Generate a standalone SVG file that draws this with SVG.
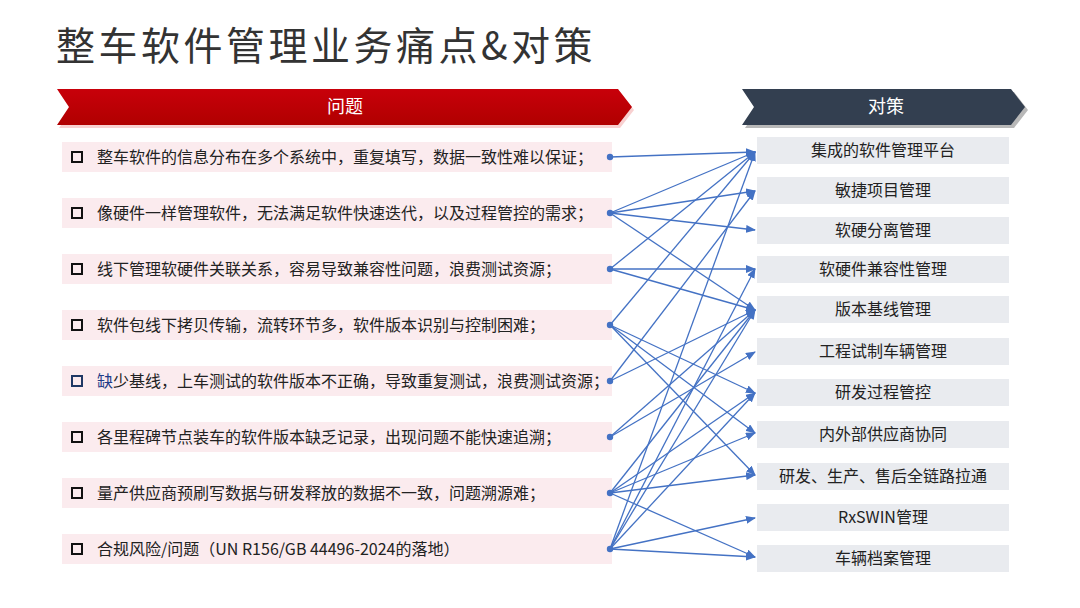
<svg xmlns="http://www.w3.org/2000/svg" width="1080" height="608" viewBox="0 0 1080 608">
<style>
text{font-family:"Noto Sans CJK SC","Noto Sans",sans-serif}
.title{font-size:39px;fill:#333;letter-spacing:3.5px}
.hdr{font-size:18px;fill:#fff}
.row{fill:#FBEBEE}
.rt{font-size:16px;fill:#222}
.cb{fill:none;stroke:#111;stroke-width:2}
.box{fill:#E9EBEF}
.bt{font-size:16px;fill:#222;text-anchor:middle}
.c{fill:none;stroke:#4472C4;stroke-width:1.3;marker-end:url(#ah)}
.dot{fill:#4472C4}
</style>
<defs>
<marker id="ah" markerUnits="userSpaceOnUse" markerWidth="10" markerHeight="8" refX="9" refY="4" orient="auto">
<path d="M0,0 L10,4 L0,8 Z" fill="#4472C4"/>
</marker>
<linearGradient id="rg" x1="0" y1="0" x2="0" y2="1">
<stop offset="0" stop-color="#C8000A"/>
<stop offset="1" stop-color="#B00000"/>
</linearGradient>
</defs>
<rect width="1080" height="608" fill="#fff"/>
<text class="title" x="56" y="60">整车软件管理业务痛点&amp;对策</text>

<g id="hdr-problem">
<polygon points="59,92 620,92 634,110 620,128 59,128 71,110" fill="#F6C4C4" opacity="0.8"/>
<polygon points="57,89 618,89 632,107 618,125 57,125 69,107" fill="url(#rg)"/>
<text class="hdr" x="345" y="113" text-anchor="middle">问题</text>
</g>
<g id="hdr-solution">
<polygon points="745,92 1014,92 1028,110 1014,128 745,128 757,110" fill="#A6A6A6" opacity="0.8"/>
<polygon points="742,89 1011,89 1025,107 1011,125 742,125 754,107" fill="#333F50"/>
<text class="hdr" x="886" y="113" text-anchor="middle">对策</text>
</g>

<g id="p1"><rect class="row" x="62" y="142" width="550" height="30"/><rect class="cb" x="72" y="152" width="10" height="10"/><text class="rt" x="97" y="163">整车软件的信息分布在多个系统中，重复填写，数据一致性难以保证；</text></g>
<g id="p2"><rect class="row" x="62" y="198" width="550" height="30"/><rect class="cb" x="72" y="208" width="10" height="10"/><text class="rt" x="97" y="219">像硬件一样管理软件，无法满足软件快速迭代，以及过程管控的需求；</text></g>
<g id="p3"><rect class="row" x="62" y="254" width="550" height="30"/><rect class="cb" x="72" y="264" width="10" height="10"/><text class="rt" x="97" y="275">线下管理软硬件关联关系，容易导致兼容性问题，浪费测试资源；</text></g>
<g id="p4"><rect class="row" x="62" y="310" width="550" height="30"/><rect class="cb" x="72" y="320" width="10" height="10"/><text class="rt" x="97" y="331">软件包线下拷贝传输，流转环节多，软件版本识别与控制困难；</text></g>
<g id="p5"><rect class="row" x="62" y="366" width="550" height="30"/><rect class="cb" x="72" y="376" width="10" height="10" style="stroke:#1F3864"/><text class="rt" x="97" y="387"><tspan fill="#1F3C88">缺</tspan>少基线，上车测试的软件版本不正确，导致重复测试，浪费测试资源；</text></g>
<g id="p6"><rect class="row" x="62" y="422" width="550" height="30"/><rect class="cb" x="72" y="432" width="10" height="10"/><text class="rt" x="97" y="443">各里程碑节点装车的软件版本缺乏记录，出现问题不能快速追溯；</text></g>
<g id="p7"><rect class="row" x="62" y="478" width="550" height="30"/><rect class="cb" x="72" y="488" width="10" height="10"/><text class="rt" x="97" y="499">量产供应商预刷写数据与研发释放的数据不一致，问题溯源难；</text></g>
<g id="p8"><rect class="row" x="62" y="534" width="550" height="30"/><rect class="cb" x="72" y="544" width="10" height="10"/><text class="rt" x="97" y="555">合规风险/问题（UN R156/GB 44496-2024的落地）</text></g>

<g id="s1"><rect class="box" x="757" y="137" width="252" height="27"/><text class="bt" x="883" y="156">集成的软件管理平台</text></g>
<g id="s2"><rect class="box" x="757" y="177" width="252" height="27"/><text class="bt" x="883" y="196">敏捷项目管理</text></g>
<g id="s3"><rect class="box" x="757" y="217" width="252" height="27"/><text class="bt" x="883" y="236">软硬分离管理</text></g>
<g id="s4"><rect class="box" x="757" y="256" width="252" height="27"/><text class="bt" x="883" y="275">软硬件兼容性管理</text></g>
<g id="s5"><rect class="box" x="757" y="296" width="252" height="27"/><text class="bt" x="883" y="315">版本基线管理</text></g>
<g id="s6"><rect class="box" x="757" y="338" width="252" height="27"/><text class="bt" x="883" y="357">工程试制车辆管理</text></g>
<g id="s7"><rect class="box" x="757" y="379" width="252" height="27"/><text class="bt" x="883" y="398">研发过程管控</text></g>
<g id="s8"><rect class="box" x="757" y="421" width="252" height="27"/><text class="bt" x="883" y="440">内外部供应商协同</text></g>
<g id="s9"><rect class="box" x="757" y="463" width="252" height="27"/><text class="bt" x="883" y="482">研发、生产、售后全链路拉通</text></g>
<g id="s10"><rect class="box" x="757" y="504" width="252" height="27"/><text class="bt" x="883" y="523">RxSWIN管理</text></g>
<g id="s11"><rect class="box" x="757" y="545" width="252" height="27"/><text class="bt" x="883" y="564">车辆档案管理</text></g>

<g id="connectors">
<circle class="dot" cx="610" cy="157" r="3.2"/>
<circle class="dot" cx="610" cy="213" r="3.2"/>
<circle class="dot" cx="610" cy="269" r="3.2"/>
<circle class="dot" cx="610" cy="325" r="3.2"/>
<circle class="dot" cx="610" cy="381" r="3.2"/>
<circle class="dot" cx="610" cy="437" r="3.2"/>
<circle class="dot" cx="610" cy="493" r="3.2"/>
<circle class="dot" cx="610" cy="549" r="3.2"/>
<line class="c" x1="610" y1="157" x2="755" y2="152"/>
<line class="c" x1="610" y1="213" x2="755" y2="152"/>
<line class="c" x1="610" y1="213" x2="755" y2="191"/>
<line class="c" x1="610" y1="213" x2="755" y2="230"/>
<line class="c" x1="610" y1="213" x2="755" y2="310"/>
<line class="c" x1="610" y1="269" x2="755" y2="152"/>
<line class="c" x1="610" y1="269" x2="755" y2="269"/>
<line class="c" x1="610" y1="269" x2="755" y2="310"/>
<line class="c" x1="610" y1="325" x2="755" y2="152"/>
<line class="c" x1="610" y1="325" x2="755" y2="393"/>
<line class="c" x1="610" y1="325" x2="755" y2="433"/>
<line class="c" x1="610" y1="325" x2="755" y2="475"/>
<line class="c" x1="610" y1="381" x2="755" y2="191"/>
<line class="c" x1="610" y1="381" x2="755" y2="310"/>
<line class="c" x1="610" y1="437" x2="755" y2="310"/>
<line class="c" x1="610" y1="437" x2="755" y2="352"/>
<line class="c" x1="610" y1="493" x2="755" y2="310"/>
<line class="c" x1="610" y1="493" x2="755" y2="393"/>
<line class="c" x1="610" y1="493" x2="755" y2="433"/>
<line class="c" x1="610" y1="493" x2="755" y2="475"/>
<line class="c" x1="610" y1="493" x2="755" y2="557"/>
<line class="c" x1="610" y1="549" x2="755" y2="152"/>
<line class="c" x1="610" y1="549" x2="755" y2="269"/>
<line class="c" x1="610" y1="549" x2="755" y2="310"/>
<line class="c" x1="610" y1="549" x2="755" y2="393"/>
<line class="c" x1="610" y1="549" x2="755" y2="518"/>
<line class="c" x1="610" y1="549" x2="755" y2="557"/>
</g>
</svg>
